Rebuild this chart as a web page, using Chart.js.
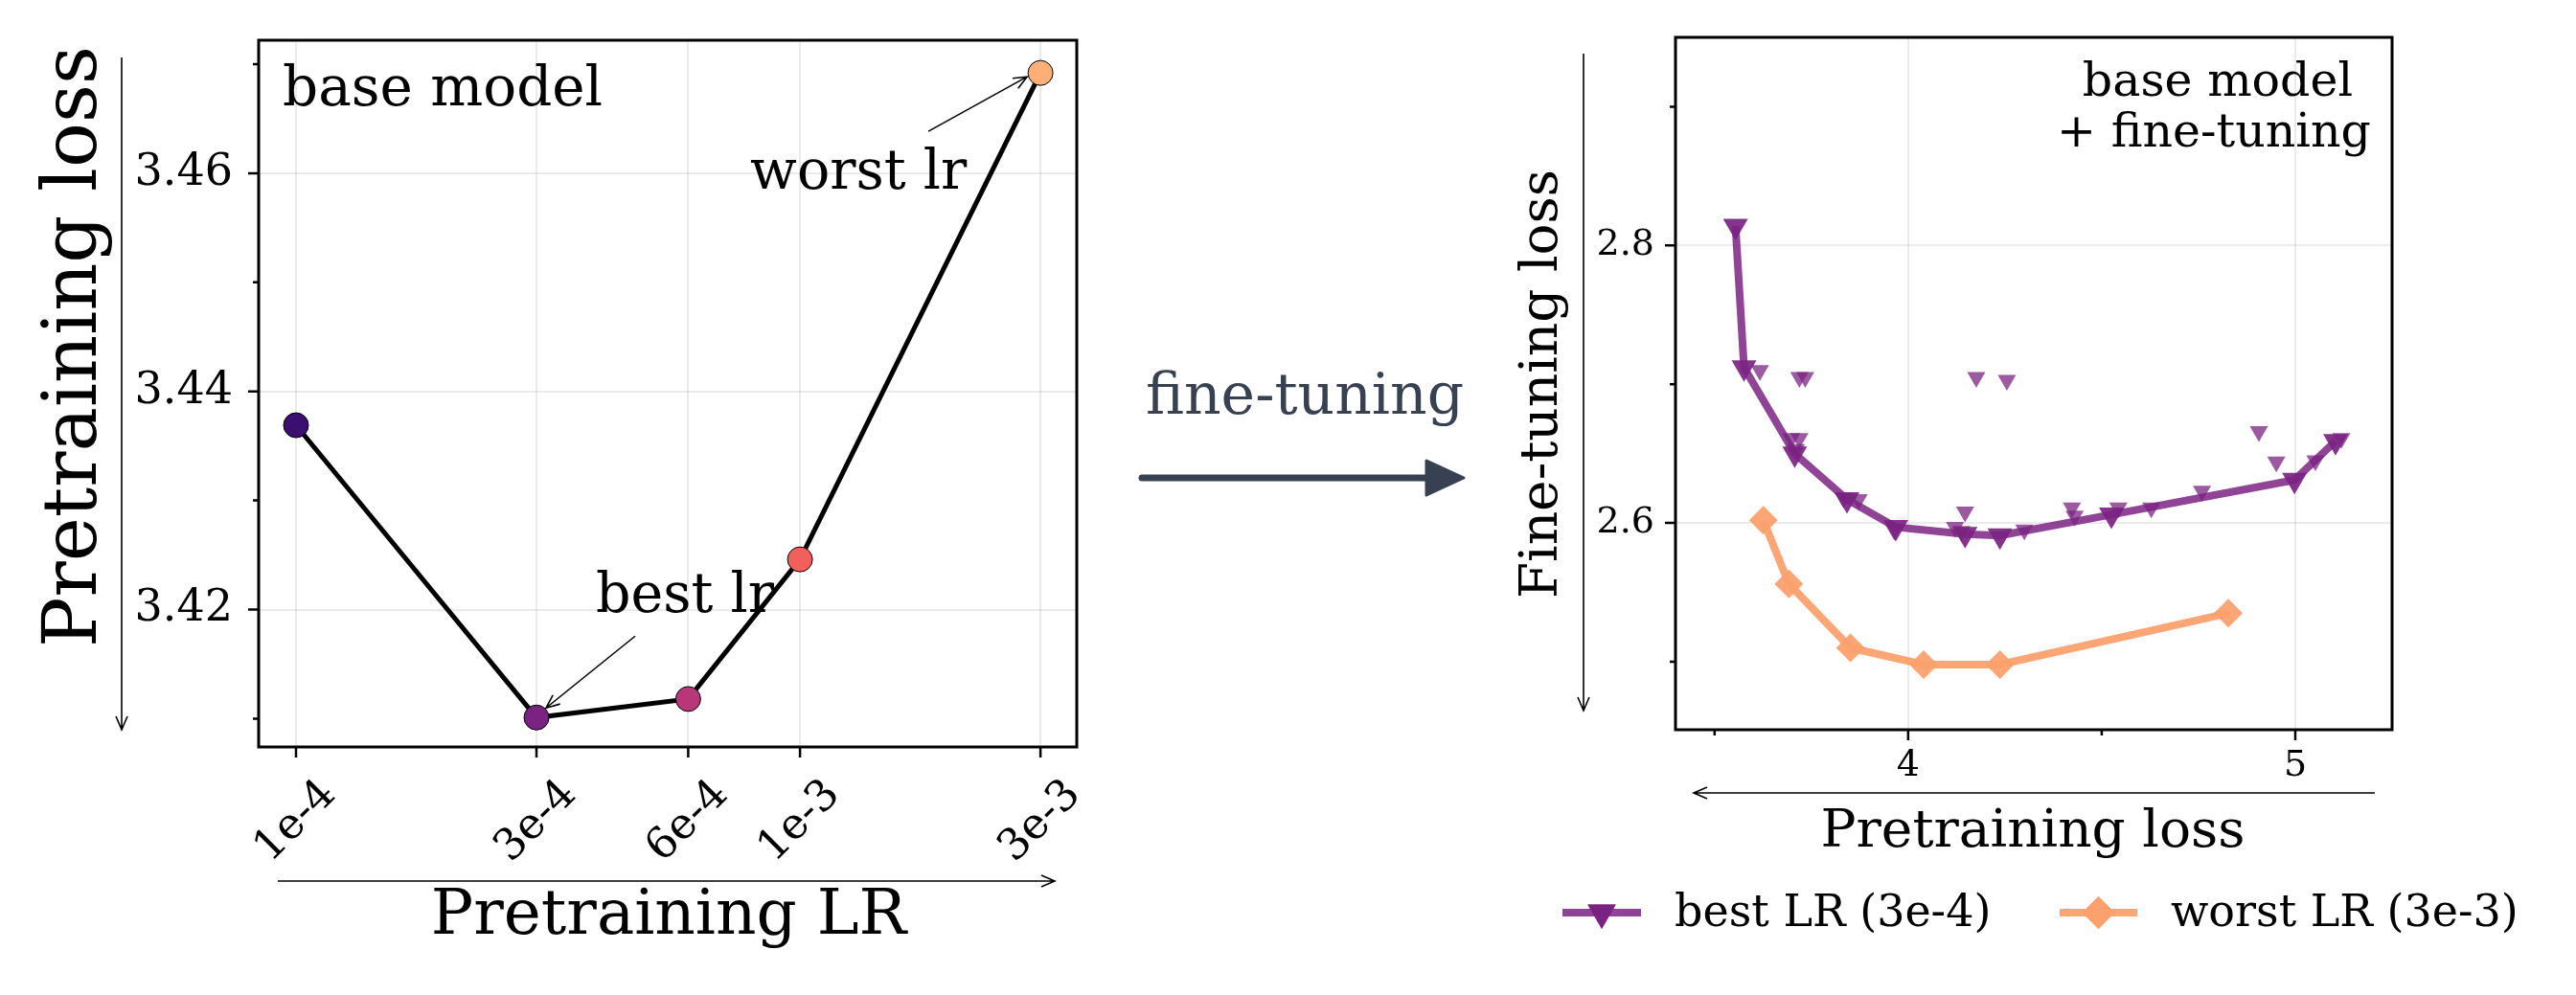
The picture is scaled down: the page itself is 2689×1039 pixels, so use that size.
<!DOCTYPE html>
<html>
<head>
<meta charset="utf-8">
<script src="https://cdn.jsdelivr.net/npm/chart.js@4.4.1/dist/chart.umd.min.js"></script>
<style>
html, body { margin: 0; padding: 0; background: #fff; }
body { width: 2689px; height: 1039px; position: relative; overflow: hidden; }
canvas { position: absolute; top: 0; }
#leftChart { left: 0; }
#rightChart { left: 1150px; }
</style>
</head>
<body>
<canvas id="leftChart" width="1150" height="1039"></canvas>
<canvas id="rightChart" width="1539" height="1039"></canvas>
<script>
// left panel: base model, pretraining loss for each LR
const lrValues = [1e-4, 3e-4, 6e-4, 1e-3, 3e-3];
const lrLabels = ['1e-4', '3e-4', '6e-4', '1e-3', '3e-3'];
const pretrainLoss = [3.4369, 3.4101, 3.4118, 3.4246, 3.4692];
const lrColors = ['#3b0f70', '#7b2382', '#b73779', '#f1605d', '#feaf77'];
const leftYTicks = [3.41, 3.42, 3.43, 3.44, 3.45, 3.46, 3.47];
const leftYMajor = [3.42, 3.44, 3.46];

// right panel: fine-tuning loss against pretraining loss
const bestX = [3.554, 3.576, 3.707, 3.842, 3.968, 4.147, 4.237, 4.525, 4.998, 5.104];
const bestY = [2.814, 2.712, 2.650, 2.617, 2.597, 2.592, 2.591, 2.606, 2.631, 2.659];
const bestExtraX = [3.617, 3.719, 3.734, 3.698, 3.719, 3.710, 3.833, 3.872, 3.964, 4.121, 4.147, 4.138,
    4.176, 4.255, 4.300, 4.423, 4.430, 4.543, 4.628, 4.759, 4.906, 4.951, 5.052, 5.119];
const bestExtraY = [2.710, 2.705, 2.705, 2.661, 2.661, 2.653, 2.618, 2.617, 2.595, 2.597, 2.608, 2.594,
    2.705, 2.703, 2.595, 2.611, 2.605, 2.611, 2.611, 2.623, 2.666, 2.644, 2.645, 2.661];
const worstX = [3.626, 3.692, 3.851, 4.040, 4.237, 4.827];
const worstY = [2.602, 2.556, 2.510, 2.498, 2.498, 2.535];
const rightXTicks = [3.5, 4, 4.5, 5];
const rightXMajor = [4, 5];
const rightYTicks = [2.5, 2.6, 2.7, 2.8, 2.9];
const rightYMajor = [2.6, 2.8];

const FONT = '"DejaVu Serif", serif';
const PURPLE = 'rgba(123,35,130,0.85)';
const PURPLE_PT = 'rgba(123,35,130,0.92)';
const PURPLE_SC = 'rgba(123,35,130,0.75)';
const ORANGE = 'rgba(252,160,110,0.95)';
const GRID = 'rgba(0,0,0,0.08)';

Chart.defaults.font.family = FONT;
Chart.defaults.color = '#000';

function isMajor(list, v) {
    return list.some(m => Math.abs(m - v) < 1e-9);
}

function pairs(xs, ys) {
    return xs.map((x, i) => ({x: x, y: ys[i]}));
}

// thin arrow with open head, like matplotlib '->'
function thinArrow(ctx, x1, y1, x2, y2, width) {
    const ang = Math.atan2(y2 - y1, x2 - x1);
    const hl = 14, hw = 6;
    ctx.save();
    ctx.strokeStyle = '#000';
    ctx.lineWidth = width || 1.6;
    ctx.beginPath();
    ctx.moveTo(x1, y1);
    ctx.lineTo(x2, y2);
    ctx.moveTo(x2 - hl * Math.cos(ang) + hw * Math.sin(ang), y2 - hl * Math.sin(ang) - hw * Math.cos(ang));
    ctx.lineTo(x2, y2);
    ctx.lineTo(x2 - hl * Math.cos(ang) - hw * Math.sin(ang), y2 - hl * Math.sin(ang) + hw * Math.cos(ang));
    ctx.stroke();
    ctx.restore();
}

function text(ctx, str, x, y, size, align, rot, color) {
    ctx.save();
    ctx.font = size + 'px ' + FONT;
    ctx.fillStyle = color || '#000';
    ctx.textAlign = align || 'left';
    ctx.textBaseline = 'alphabetic';
    ctx.translate(x, y);
    if (rot) ctx.rotate(rot);
    ctx.fillText(str, 0, 0);
    ctx.restore();
}

// box around the plot and the tick marks (major long, minor short)
const frameTicks = {
    id: 'frameTicks',
    afterDraw(chart, args, opts) {
        const {ctx, chartArea: a, scales} = chart;
        ctx.save();
        ctx.strokeStyle = '#000';
        ctx.lineWidth = 2.5;
        ctx.beginPath();
        scales.x.ticks.forEach(t => {
            const px = scales.x.getPixelForValue(t.value);
            const len = isMajor(opts.xMajor, t.value) ? 11 : 6;
            ctx.moveTo(px, a.bottom);
            ctx.lineTo(px, a.bottom + len);
        });
        scales.y.ticks.forEach(t => {
            const py = scales.y.getPixelForValue(t.value);
            const len = isMajor(opts.yMajor, t.value) ? 11 : 6;
            ctx.moveTo(a.left, py);
            ctx.lineTo(a.left - len, py);
        });
        ctx.stroke();
        ctx.lineWidth = 3;
        ctx.strokeRect(a.left, a.top, a.right - a.left, a.bottom - a.top);
        ctx.restore();
    }
};

const leftNotes = {
    id: 'leftNotes',
    afterDraw(chart) {
        const {ctx, scales} = chart;
        text(ctx, 'Pretraining loss', 100, 362, 78, 'center', -Math.PI / 2);
        thinArrow(ctx, 127, 60, 127, 762);
        text(ctx, 'Pretraining LR', 698, 975, 66, 'center');
        thinArrow(ctx, 290, 920, 1101, 920);
        text(ctx, 'base model', 295, 110, 58, 'left');

        const bx = scales.x.getPixelForValue(lrValues[1]);
        const by = scales.y.getPixelForValue(pretrainLoss[1]);
        text(ctx, 'best lr', bx + 62, by - 110, 57, 'left');
        thinArrow(ctx, bx + 103, by - 85, bx + 10, by - 10);

        const wx = scales.x.getPixelForValue(lrValues[4]);
        const wy = scales.y.getPixelForValue(pretrainLoss[4]);
        text(ctx, 'worst lr', wx - 303, wy + 121, 57, 'left');
        thinArrow(ctx, wx - 117, wy + 61, wx - 14, wy + 4);
    }
};

const rightNotes = {
    id: 'rightNotes',
    afterDraw(chart) {
        const ctx = chart.ctx;
        // middle "fine-tuning" arrow between the panels
        text(ctx, 'fine-tuning', 212, 432, 60, 'center', 0, '#374151');
        ctx.save();
        ctx.strokeStyle = '#374151';
        ctx.fillStyle = '#374151';
        ctx.lineWidth = 7;
        ctx.lineCap = 'round';
        ctx.lineJoin = 'round';
        ctx.beginPath();
        ctx.moveTo(42, 499);
        ctx.lineTo(340, 499);
        ctx.stroke();
        ctx.lineWidth = 3;
        ctx.beginPath();
        ctx.moveTo(339, 481);
        ctx.lineTo(378, 499);
        ctx.lineTo(339, 517);
        ctx.closePath();
        ctx.fill();
        ctx.stroke();
        ctx.restore();

        text(ctx, 'Fine-tuning loss', 475, 401, 55, 'center', -Math.PI / 2);
        thinArrow(ctx, 503, 56, 503, 742);
        text(ctx, 'Pretraining loss', 972, 884, 55, 'center');
        thinArrow(ctx, 1329, 828, 618, 828);
        text(ctx, 'base model', 1165, 100, 49, 'center');
        text(ctx, '+ fine-tuning', 1161, 153, 49, 'center');

        // legend
        const items = [
            {ds: chart.data.datasets[2], x0: 481, x1: 563, tx: 598, r: 17},
            {ds: chart.data.datasets[0], x0: 1000, x1: 1081, tx: 1116, r: 17}
        ];
        items.forEach(it => {
            ctx.save();
            ctx.strokeStyle = it.ds.borderColor;
            ctx.lineWidth = 8;
            ctx.beginPath();
            ctx.moveTo(it.x0, 953);
            ctx.lineTo(it.x1, 953);
            ctx.stroke();
            ctx.fillStyle = it.ds.pointBackgroundColor;
            Chart.helpers.drawPoint(ctx, {
                pointStyle: it.ds.pointStyle,
                rotation: it.ds.pointRotation || 0,
                radius: it.r,
                borderWidth: 0
            }, (it.x0 + it.x1) / 2, 953);
            ctx.fill();
            ctx.restore();
            ctx.save();
            ctx.font = '46px ' + FONT;
            ctx.fillStyle = '#000';
            ctx.textBaseline = 'middle';
            ctx.fillText(it.ds.label, it.tx, 955);
            ctx.restore();
        });
    }
};

new Chart(document.getElementById('leftChart'), {
    type: 'line',
    data: {
        datasets: [{
            label: 'base model',
            data: pairs(lrValues, pretrainLoss),
            borderColor: '#000',
            borderWidth: 5,
            pointRadius: 13,
            pointHoverRadius: 13,
            pointBackgroundColor: lrColors,
            pointBorderColor: '#000',
            pointBorderWidth: 1,
            tension: 0
        }]
    },
    options: {
        responsive: false,
        animation: false,
        devicePixelRatio: 1,
        events: [],
        layout: {padding: {top: 42, right: 26, left: 0, bottom: 0}, autoPadding: false},
        plugins: {
            legend: {display: false},
            tooltip: {enabled: false},
            frameTicks: {xMajor: lrValues, yMajor: leftYMajor}
        },
        scales: {
            x: {
                type: 'logarithmic',
                min: 8.431e-5,
                max: 3.541e-3,
                afterBuildTicks: s => { s.ticks = lrValues.map(v => ({value: v})); },
                afterFit: s => { s.height = 259; s.paddingLeft = 0; s.paddingRight = 0; },
                ticks: {
                    callback: (v, i) => lrLabels[i],
                    autoSkip: false,
                    minRotation: 45,
                    maxRotation: 45,
                    labelOffset: 35,
                    padding: 24,
                    font: {size: 45}
                },
                grid: {color: GRID, lineWidth: 2, drawTicks: false},
                border: {display: false}
            },
            y: {
                min: 3.4074,
                max: 3.4722,
                afterBuildTicks: s => { s.ticks = leftYTicks.map(v => ({value: v})); },
                afterFit: s => { s.width = 270; s.paddingTop = 0; s.paddingBottom = 0; },
                ticks: {
                    callback: v => isMajor(leftYMajor, v) ? v.toFixed(2) : '',
                    autoSkip: false,
                    padding: 27,
                    font: {size: 46}
                },
                grid: {
                    color: c => (c.tick && isMajor(leftYMajor, c.tick.value)) ? GRID : 'rgba(0,0,0,0)',
                    lineWidth: 2,
                    drawTicks: false
                },
                border: {display: false}
            }
        }
    },
    plugins: [frameTicks, leftNotes]
});

new Chart(document.getElementById('rightChart'), {
    type: 'line',
    data: {
        datasets: [{
            label: 'worst LR (3e-3)',
            data: pairs(worstX, worstY),
            borderColor: ORANGE,
            borderWidth: 8,
            pointStyle: 'rectRot',
            pointRadius: 15,
            pointHoverRadius: 15,
            pointBackgroundColor: ORANGE,
            pointBorderWidth: 0,
            tension: 0
        }, {
            label: 'best LR runs',
            data: pairs(bestExtraX, bestExtraY),
            showLine: false,
            pointStyle: 'triangle',
            pointRotation: 180,
            pointRadius: 11,
            pointHoverRadius: 11,
            pointBackgroundColor: PURPLE_SC,
            pointBorderWidth: 0
        }, {
            label: 'best LR (3e-4)',
            data: pairs(bestX, bestY),
            borderColor: PURPLE,
            borderWidth: 8,
            pointStyle: 'triangle',
            pointRotation: 180,
            pointRadius: 15,
            pointHoverRadius: 15,
            pointBackgroundColor: PURPLE_PT,
            pointBorderWidth: 0,
            tension: 0
        }]
    },
    options: {
        responsive: false,
        animation: false,
        devicePixelRatio: 1,
        events: [],
        layout: {padding: {top: 39, right: 192, left: 0, bottom: 0}, autoPadding: false},
        plugins: {
            legend: {display: false},
            tooltip: {enabled: false},
            frameTicks: {xMajor: rightXMajor, yMajor: rightYMajor}
        },
        scales: {
            x: {
                type: 'linear',
                min: 3.399,
                max: 5.25,
                afterBuildTicks: s => { s.ticks = rightXTicks.map(v => ({value: v})); },
                afterFit: s => { s.height = 277; s.paddingLeft = 0; s.paddingRight = 0; },
                ticks: {
                    callback: v => isMajor(rightXMajor, v) ? String(v) : '',
                    autoSkip: false,
                    maxRotation: 0,
                    padding: 15,
                    font: {size: 38}
                },
                grid: {
                    color: c => (c.tick && isMajor(rightXMajor, c.tick.value)) ? GRID : 'rgba(0,0,0,0)',
                    lineWidth: 2,
                    drawTicks: false
                },
                border: {display: false}
            },
            y: {
                min: 2.451,
                max: 2.950,
                afterBuildTicks: s => { s.ticks = rightYTicks.map(v => ({value: v})); },
                afterFit: s => { s.width = 599; s.paddingTop = 0; s.paddingBottom = 0; },
                ticks: {
                    callback: v => isMajor(rightYMajor, v) ? v.toFixed(1) : '',
                    autoSkip: false,
                    padding: 22,
                    font: {size: 38}
                },
                grid: {
                    color: c => (c.tick && isMajor(rightYMajor, c.tick.value)) ? GRID : 'rgba(0,0,0,0)',
                    lineWidth: 2,
                    drawTicks: false
                },
                border: {display: false}
            }
        }
    },
    plugins: [frameTicks, rightNotes]
});
</script>
</body>
</html>
